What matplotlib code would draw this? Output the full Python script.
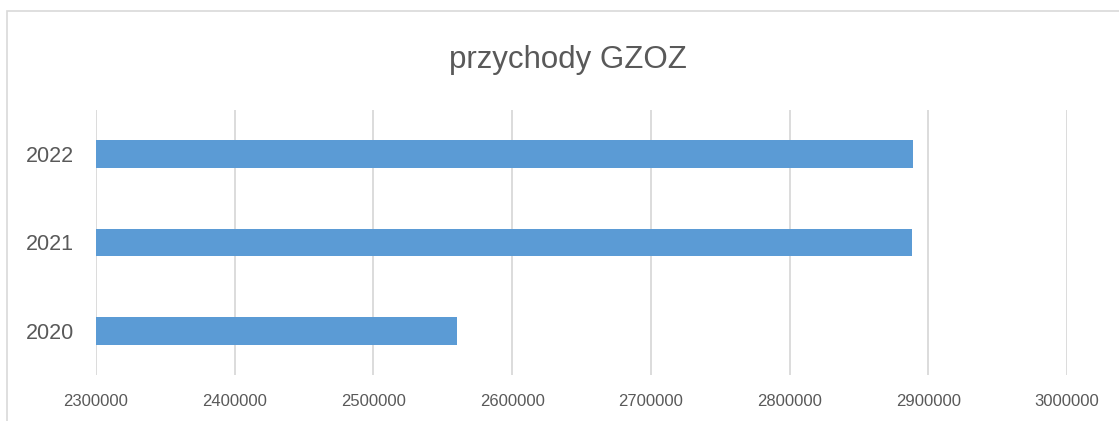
import matplotlib.pyplot as plt
from matplotlib.patches import Rectangle

# data
years = ['2020', '2021', '2022']
revenue = [2560300, 2888300, 2889300]
x_ticks = [2300000, 2400000, 2500000, 2600000, 2700000, 2800000, 2900000, 3000000]

W, H = 1119, 421
fig = plt.figure(figsize=(W / 100, H / 100), dpi=100)
plt.rcParams['font.family'] = ['Liberation Sans', 'DejaVu Sans']

# plot area in pixel coords: left 96, right 1067, top 110, bottom 375
ax = fig.add_axes([96 / W, 1 - 375 / H, (1067 - 96) / W, (375 - 110) / H])

text_col = '#595959'
grid_col = '#d9d9d9'

ax.barh(range(len(years)), revenue, height=0.31, color='#5b9bd5')
ax.set_xlim(x_ticks[0], x_ticks[-1])
ax.set_ylim(-0.5, len(years) - 0.5)

ax.set_yticks(range(len(years)))
ax.set_yticklabels(years, fontsize=15.5, color=text_col)
ax.set_xticks(x_ticks)
ax.set_xticklabels([str(v) for v in x_ticks], fontsize=12, color=text_col)
ax.tick_params(axis='both', length=0)
ax.tick_params(axis='x', pad=14)
ax.tick_params(axis='y', pad=16)

ax.grid(axis='x', color=grid_col, linewidth=1.3)
ax.set_axisbelow(True)
for s in ax.spines.values():
    s.set_visible(False)

fig.text(568 / W, 1 - 60 / H, 'przychody GZOZ', ha='center', va='center',
         fontsize=22.5, color=text_col)

# outer chart border (cut off at right and bottom)
fig.patches.append(Rectangle((7 / W, -0.1), 1.2, 1 - 11 / H + 0.1,
                             transform=fig.transFigure, fill=False,
                             edgecolor=grid_col, linewidth=1.2))

fig.savefig('out.png', dpi=100)
